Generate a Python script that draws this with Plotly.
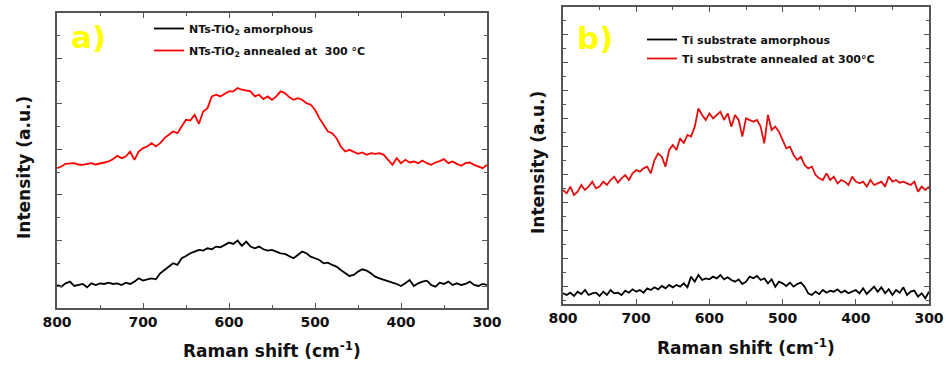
import plotly.graph_objects as go

# Raman shift axis (cm^-1), 5 cm^-1 step from 800 to 300
shift = list(range(800, 295, -5))

# Panel a) NTs-TiO2 (intensity, a.u.)
a_amorphous = [69, 64, 74, 79, 66, 69, 72, 62, 74, 69, 74, 72, 76, 72, 74, 69, 76, 72, 79, 89,
               82, 86, 89, 86, 104, 114, 124, 134, 129, 149, 156, 164, 169, 174, 172, 179, 176, 184, 182, 189,
               196, 192, 202, 186, 199, 184, 179, 184, 176, 172, 174, 169, 164, 162, 156, 149, 159, 169, 164, 154,
               149, 144, 134, 136, 129, 124, 114, 104, 96, 99, 109, 116, 112, 104, 94, 89, 84, 79, 76, 72,
               66, 74, 84, 66, 74, 79, 82, 69, 64, 76, 72, 79, 69, 74, 69, 72, 79, 69, 66, 72, 69]
a_annealed = [419, 424, 432, 434, 434, 430, 429, 432, 434, 430, 432, 436, 439, 446, 456, 449, 454, 469, 444, 469,
              479, 484, 494, 484, 494, 509, 519, 529, 524, 544, 564, 562, 579, 552, 589, 599, 634, 639, 634, 642,
              649, 649, 659, 654, 652, 649, 634, 639, 626, 634, 624, 634, 649, 644, 632, 624, 629, 624, 614, 609,
              594, 569, 549, 529, 524, 509, 484, 469, 474, 469, 462, 466, 459, 464, 462, 464, 459, 444, 429, 449,
              434, 444, 436, 439, 434, 442, 434, 429, 436, 440, 446, 434, 439, 432, 426, 434, 436, 429, 424, 419, 429]

# Panel b) Ti substrate (intensity, a.u.)
b_amorphous = [32, 27, 34, 24, 37, 30, 42, 27, 32, 34, 24, 37, 27, 42, 32, 34, 27, 40, 34, 44,
               37, 42, 34, 47, 42, 50, 44, 54, 47, 57, 50, 57, 52, 62, 50, 82, 67, 87, 72, 77,
               74, 82, 77, 87, 74, 80, 72, 67, 74, 60, 67, 82, 77, 84, 72, 77, 62, 74, 52, 67,
               62, 54, 64, 52, 60, 64, 52, 32, 27, 37, 30, 42, 34, 40, 37, 44, 34, 40, 32, 37,
               42, 32, 47, 30, 42, 52, 37, 50, 32, 44, 27, 42, 34, 50, 27, 37, 40, 22, 32, 17, 37]
b_annealed = [342, 332, 352, 327, 337, 357, 342, 352, 367, 347, 352, 367, 357, 372, 382, 364, 377, 387, 372, 392,
              402, 397, 407, 412, 392, 432, 452, 442, 412, 462, 477, 462, 497, 482, 507, 502, 532, 587, 567, 552,
              572, 557, 567, 577, 552, 572, 532, 567, 552, 502, 557, 552, 547, 552, 532, 482, 567, 522, 532, 517,
              492, 467, 472, 447, 432, 442, 417, 407, 412, 387, 377, 372, 392, 372, 382, 362, 372, 367, 357, 382,
              367, 362, 367, 352, 372, 357, 362, 367, 352, 382, 367, 372, 364, 367, 362, 357, 367, 337, 352, 342, 352]

names_a = ["NTs-TiO<sub>2</sub> amorphous", "NTs-TiO<sub>2</sub> annealed at  300 °C"]
names_b = ["Ti substrate amorphous", "Ti substrate annealed at 300°C"]
x_ticks = [800, 700, 600, 500, 400, 300]

W, H = 946, 371
FONT = "DejaVu Sans"
AX = "#555555"

def px_x(p):
    return p / W

def px_y(p):
    return 1 - p / H

fig = go.Figure()
fig.add_trace(go.Scatter(x=shift, y=a_amorphous, mode="lines", name=names_a[0], legendgroup="a1",
                         line=dict(color="#000000", width=1.8), xaxis="x", yaxis="y", legend="legend"))
fig.add_trace(go.Scatter(x=shift, y=a_annealed, mode="lines", name=names_a[1], legendgroup="a2",
                         line=dict(color="#ff0000", width=1.8), xaxis="x", yaxis="y", legend="legend"))
fig.add_trace(go.Scatter(x=shift, y=b_amorphous, mode="lines", name=names_b[0],
                         line=dict(color="#000000", width=1.8), xaxis="x2", yaxis="y2", legend="legend2"))
fig.add_trace(go.Scatter(x=shift, y=b_annealed, mode="lines", name=names_b[1],
                         line=dict(color="#e01010", width=1.8), xaxis="x2", yaxis="y2", legend="legend2"))

def xax(dom, anchor):
    return dict(domain=dom, anchor=anchor, range=[800, 300], tickmode="array", tickvals=x_ticks,
                automargin=False,
                ticks="inside", ticklen=5, tickwidth=1.2, tickcolor=AX, mirror="allticks",
                showline=True, linecolor=AX, linewidth=1.5, showgrid=False, zeroline=False,
                minor=dict(ticks="inside", ticklen=3, tickwidth=1, tickcolor=AX, dtick=50, tick0=300, showgrid=False),
                tickfont=dict(family=FONT, size=14, color="#111111", weight="bold"))

def yax(dom, anchor, rng, t0, dt):
    return dict(domain=dom, anchor=anchor, range=rng, showticklabels=False, automargin=False,
                tick0=t0, dtick=dt, ticks="inside", ticklen=5, tickwidth=1.2, tickcolor=AX,
                mirror="allticks", showline=True, linecolor=AX, linewidth=1.5,
                showgrid=False, zeroline=False,
                minor=dict(ticks="inside", ticklen=3, tickwidth=1, tickcolor=AX, dtick=dt / 2, tick0=t0, showgrid=False))

fig.update_layout(
    width=W, height=H, margin=dict(l=0, r=0, t=0, b=0, autoexpand=False),
    paper_bgcolor="white", plot_bgcolor="white",
    xaxis=xax([px_x(57), px_x(487)], "y"),
    yaxis=yax([px_y(308), px_y(13)], "x", [0, 884], 65.75, 136.5),
    xaxis2=xax([px_x(563), px_x(929)], "y2"),
    yaxis2=yax([px_y(304), px_y(7.3)], "x2", [0, 890], 52, 84),
    legend=dict(x=px_x(149), y=px_y(14), xanchor="left", yanchor="top", bgcolor="rgba(0,0,0,0)",
                font=dict(family=FONT, size=11, color="#111111", weight="bold"), tracegroupgap=3),
    legend2=dict(x=px_x(642), y=px_y(25), xanchor="left", yanchor="top", bgcolor="rgba(0,0,0,0)",
                 font=dict(family=FONT, size=11, color="#111111", weight="bold"), tracegroupgap=0),
    showlegend=True,
)

title_font = dict(family=FONT, size=17, color="#111111", weight="bold")
ann = [
    dict(text="Raman shift (cm<sup>-1</sup>)", x=px_x(272), y=px_y(350), font=title_font),
    dict(text="Raman shift (cm<sup>-1</sup>)", x=px_x(746), y=px_y(347), font=title_font),
    dict(text="Intensity (a.u.)", x=px_x(24), y=px_y(168), textangle=-90, font=title_font),
    dict(text="Intensity (a.u.)", x=px_x(538), y=px_y(163), textangle=-90, font=title_font),
    dict(text="a)", x=px_x(88), y=px_y(37), font=dict(family=FONT, size=31, color="#ffff00", weight="bold")),
    dict(text="b)", x=px_x(595), y=px_y(38), font=dict(family=FONT, size=31, color="#ffff00", weight="bold")),
]
for a in ann:
    fig.add_annotation(xref="paper", yref="paper", showarrow=False, xanchor="center", yanchor="middle", **a)

fig.write_html("out.html")
